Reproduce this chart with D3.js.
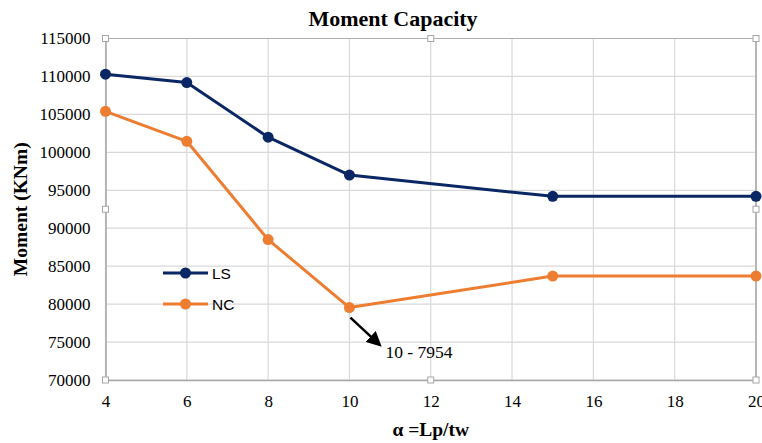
<!DOCTYPE html>
<html>
<head>
<meta charset="utf-8">
<script src="https://cdn.jsdelivr.net/npm/d3@7"></script>
<style>
  html, body { margin: 0; padding: 0; background: #fff; }
  svg { display: block; }
</style>
</head>
<body>
<svg id="chart" width="762" height="443"></svg>
<script>
// Moment capacity versus slenderness ratio α = Lp/tw
const alphaValues = [4, 6, 8, 10, 15, 20];
const lsMoments = [110300, 109200, 102000, 97000, 94200, 94200];
const ncMoments = [105400, 101450, 88500, 79540, 83700, 83700];
const xTicks = [4, 6, 8, 10, 12, 14, 16, 18, 20];
const yTicks = [70000, 75000, 80000, 85000, 90000, 95000, 100000, 105000, 110000, 115000];
const seriesNames = ["LS", "NC"];
const calloutText = "10 - 7954";

const svg = d3.select("#chart");
const margin = { left: 105.5, right: 6, top: 38.5, bottom: 63 };
const W = 762, H = 443;

const x = d3.scaleLinear().domain([4, 20]).range([margin.left, W - margin.right]);
const y = d3.scaleLinear().domain([70000, 115000]).range([H - margin.bottom, margin.top]);

const serif = "'Liberation Serif', 'Times New Roman', serif";
const sans = "'Liberation Sans', Arial, sans-serif";

// gridlines
const grid = svg.append("g");
grid.selectAll("line.h").data(yTicks).join("line")
  .attr("x1", x(4)).attr("x2", x(20))
  .attr("y1", d => y(d)).attr("y2", d => y(d))
  .attr("stroke", "#d9d9d9").attr("stroke-width", 1.2);
grid.selectAll("line.v").data(xTicks).join("line")
  .attr("y1", y(70000)).attr("y2", y(115000))
  .attr("x1", d => x(d)).attr("x2", d => x(d))
  .attr("stroke", "#d9d9d9").attr("stroke-width", 1.2);

// axes
const xAxis = svg.append("g")
  .attr("transform", `translate(0,${y(70000)})`)
  .call(d3.axisBottom(x).tickValues(xTicks).tickSize(0).tickPadding(15));
const yAxis = svg.append("g")
  .attr("transform", `translate(${x(4)},0)`)
  .call(d3.axisLeft(y).tickValues(yTicks).tickSize(0).tickPadding(15).tickFormat(d3.format("d")));
[xAxis, yAxis].forEach(a => {
  a.select(".domain").attr("stroke", "#a6a6a6").attr("stroke-width", 1.5);
  a.selectAll("text").attr("font-family", serif).attr("font-size", 17).attr("fill", "#000");
});

// frame top and right edges
svg.append("line").attr("x1", x(4)).attr("x2", x(20)).attr("y1", y(115000)).attr("y2", y(115000))
  .attr("stroke", "#b0b0b0").attr("stroke-width", 1.2);
svg.append("line").attr("x1", x(20)).attr("x2", x(20)).attr("y1", y(115000)).attr("y2", y(70000))
  .attr("stroke", "#a6a6a6").attr("stroke-width", 1.5);

// series
const colors = ["#0b2664", "#ed7d31"];
const seriesData = [lsMoments, ncMoments];
const line = d3.line().x(d => x(d[0])).y(d => y(d[1]));
seriesData.forEach((vals, i) => {
  const pts = alphaValues.map((a, j) => [a, vals[j]]);
  svg.append("path").datum(pts)
    .attr("d", line).attr("fill", "none")
    .attr("stroke", colors[i]).attr("stroke-width", 3).attr("stroke-linejoin", "round");
  svg.append("g").selectAll("circle").data(pts).join("circle")
    .attr("cx", d => x(d[0])).attr("cy", d => y(d[1])).attr("r", 5.5)
    .attr("fill", colors[i]);
});

// legend
const legendX = 163, legendY = [273, 304];
seriesNames.forEach((name, i) => {
  const g = svg.append("g");
  g.append("line").attr("x1", legendX).attr("x2", legendX + 45)
    .attr("y1", legendY[i]).attr("y2", legendY[i])
    .attr("stroke", colors[i]).attr("stroke-width", 3);
  g.append("circle").attr("cx", legendX + 22.5).attr("cy", legendY[i]).attr("r", 5.5).attr("fill", colors[i]);
  g.append("text").attr("x", legendX + 49).attr("y", legendY[i] + 5.5)
    .attr("font-family", sans).attr("font-size", 15.5).attr("fill", "#000").text(name);
});

// callout arrow for the minimum NC point
const minAlpha = alphaValues[3], minVal = ncMoments[3];
const ax0 = x(minAlpha) + 1, ay0 = y(minVal) + 10;
const ax1 = ax0 + 29, ay1 = ay0 + 27;
svg.append("defs").append("marker")
  .attr("id", "arrowhead").attr("viewBox", "0 0 10 10")
  .attr("refX", 8).attr("refY", 5).attr("markerWidth", 6).attr("markerHeight", 6)
  .attr("orient", "auto")
  .append("path").attr("d", "M0,0 L10,5 L0,10 z").attr("fill", "#000");
svg.append("line").attr("x1", ax0).attr("y1", ay0).attr("x2", ax1).attr("y2", ay1)
  .attr("stroke", "#000").attr("stroke-width", 2.5).attr("marker-end", "url(#arrowhead)");
svg.append("text").attr("x", ax1 + 6).attr("y", ay1 + 13)
  .attr("font-family", serif).attr("font-size", 17.5).attr("fill", "#000").text(calloutText);

// selection handles around the plot area
const xm = (x(4) + x(20)) / 2, ym = (y(70000) + y(115000)) / 2;
const handles = [
  [x(4), y(115000)], [xm, y(115000)], [x(20), y(115000)],
  [x(4), ym], [x(20), ym],
  [x(4), y(70000)], [xm, y(70000)], [x(20), y(70000)]
];
svg.append("g").selectAll("rect").data(handles).join("rect")
  .attr("x", d => d[0] - 3).attr("y", d => d[1] - 3)
  .attr("width", 6).attr("height", 6)
  .attr("fill", "#fff").attr("stroke", "#a6a6a6").attr("stroke-width", 1);

// titles
svg.append("text").attr("x", 393).attr("y", 26).attr("text-anchor", "middle")
  .attr("font-family", serif).attr("font-weight", "bold").attr("font-size", 22)
  .attr("fill", "#000").text("Moment Capacity");
svg.append("text").attr("x", xm).attr("y", 436).attr("text-anchor", "middle")
  .attr("font-family", serif).attr("font-weight", "bold").attr("font-size", 19.5)
  .attr("fill", "#000").text("α =Lp/tw");
svg.append("text")
  .attr("transform", `translate(27,${ym}) rotate(-90)`)
  .attr("text-anchor", "middle")
  .attr("font-family", serif).attr("font-weight", "bold").attr("font-size", 19.5)
  .attr("fill", "#000").text("Moment (KNm)");
</script>
</body>
</html>
